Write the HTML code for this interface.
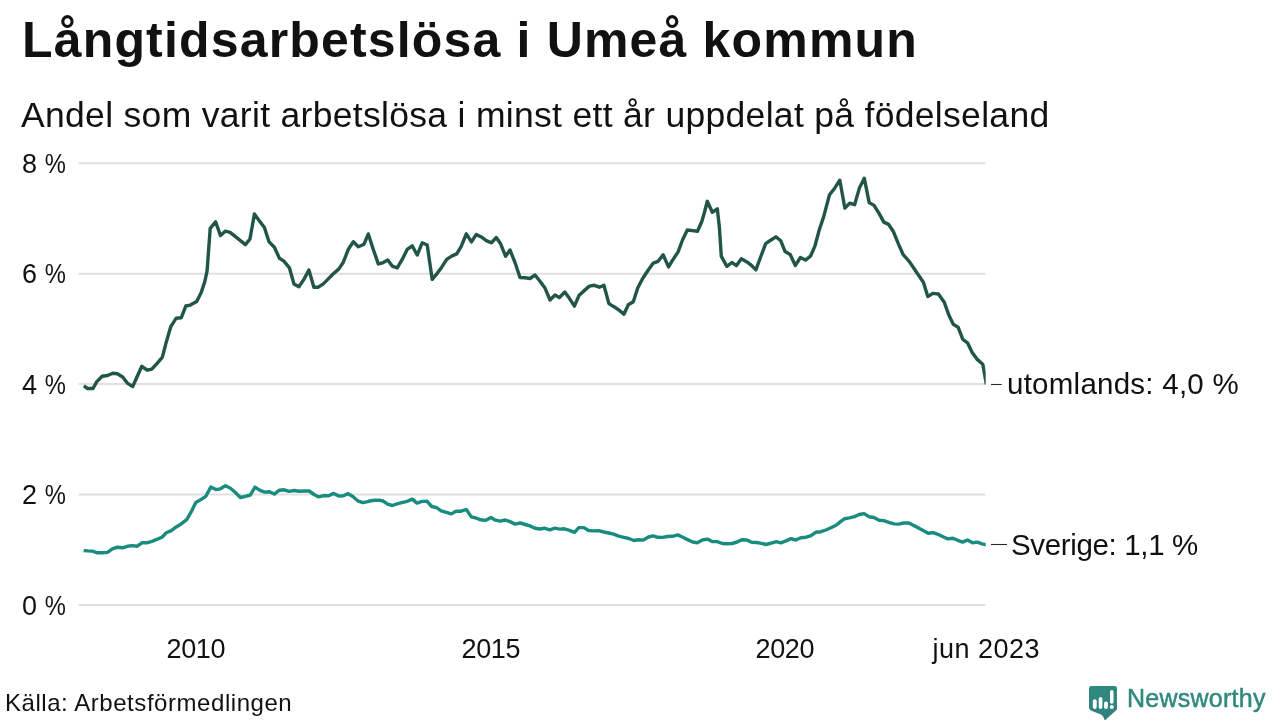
<!DOCTYPE html>
<html><head><meta charset="utf-8"><style>
html,body{margin:0;padding:0;background:#fff;}
body{width:1280px;height:720px;position:relative;overflow:hidden;font-family:"Liberation Sans", sans-serif;color:#111;}
.t{position:absolute;white-space:nowrap;line-height:1;will-change:transform;}
.yl{left:21.6px;font-size:27px;letter-spacing:-1.5px;}
.pc{display:inline-block;transform:scaleX(0.88);transform-origin:100% 50%;}
.xl{top:635.6px;width:200px;text-align:center;font-size:27px;letter-spacing:-0.35px;text-indent:-0.35px;}
</style></head><body>
<div class="t" id="title" style="left:21.6px;top:15.3px;font-size:50px;font-weight:bold;letter-spacing:1.17px;">Långtidsarbetslösa i Umeå kommun</div>
<div class="t" id="sub" style="left:21px;top:97.5px;font-size:35.5px;letter-spacing:0.31px;">Andel som varit arbetslösa i minst ett år uppdelat på födelseland</div>
<svg width="1280" height="720" style="position:absolute;left:0;top:0">
<g stroke="#e0e0e0" stroke-width="2" fill="none">
<line x1="78.5" y1="163.3" x2="985.5" y2="163.3"/>
<line x1="78.5" y1="273.7" x2="985.5" y2="273.7"/>
<line x1="78.5" y1="384.1" x2="985.5" y2="384.1"/>
<line x1="78.5" y1="494.5" x2="985.5" y2="494.5"/>
<line x1="78.5" y1="604.9" x2="985.5" y2="604.9"/>
</g>
<defs><clipPath id="plotclip"><rect x="70" y="140" width="915.7" height="480"/></clipPath></defs>
<g clip-path="url(#plotclip)">
<polyline points="83.6,550.6 88.0,550.9 92.4,551.1 97.4,552.8 102.4,552.8 107.4,552.4 112.4,548.9 117.4,547.2 122.4,547.8 127.4,546.3 132.4,545.6 136.9,546.3 141.9,542.8 146.9,542.8 151.9,541.3 156.9,539.4 161.9,537.2 166.3,532.8 171.3,530.6 175.8,527.2 180.8,524.2 186.7,519.6 191.3,511.7 195.8,502.5 200.8,499.6 205.8,496.3 210.8,487.1 215.8,489.6 220.4,488.8 225.4,485.8 230.4,488.3 235.4,492.5 240.4,497.5 245.4,496.3 250.4,495.0 255.0,487.1 260.0,490.4 264.6,492.1 269.6,491.7 274.3,494.1 279.4,490.2 284.1,489.8 289.1,491.4 294.2,490.5 299.3,491.3 304.4,491.0 309.1,491.0 314.1,494.5 318.8,496.9 323.9,495.7 328.6,495.7 333.7,493.4 338.8,496.1 343.4,495.7 348.1,493.6 352.8,496.5 358.3,501.2 363.0,502.7 367.7,501.6 369.7,501.0 374.4,500.2 379.1,500.2 383.0,501.0 387.7,504.1 392.3,505.5 397.0,503.8 401.7,502.6 407.2,501.3 412.3,499.1 417.0,503.1 422.0,501.4 427.1,501.3 431.8,506.5 436.5,507.7 441.2,510.8 446.3,512.3 451.3,513.9 456.0,511.2 461.1,511.2 466.3,509.5 471.3,516.9 476.0,518.0 480.7,519.8 485.4,520.4 490.9,517.5 495.5,520.2 500.2,521.2 505.3,520.0 510.0,521.6 515.1,524.1 520.2,523.0 525.2,524.5 529.9,525.9 535.0,528.2 539.7,529.0 544.4,528.2 549.8,529.8 554.9,528.2 559.7,529.1 564.4,528.8 569.5,530.3 574.5,532.3 578.8,527.6 583.9,527.6 588.6,530.5 593.7,530.9 598.8,530.7 603.8,532.0 608.9,533.0 613.6,534.2 618.7,536.2 623.8,537.3 628.8,538.5 633.9,540.5 638.6,539.7 643.3,540.1 648.4,537.0 653.1,535.9 657.8,537.3 662.5,537.4 667.6,536.5 672.7,536.3 677.7,534.9 682.8,537.3 687.5,539.6 692.6,542.0 697.3,542.7 702.3,540.0 707.4,539.1 712.1,541.6 717.2,541.6 722.3,543.5 727.3,543.8 732.0,543.5 737.1,542.0 741.8,539.8 746.9,540.0 751.6,542.3 756.7,542.5 761.4,543.4 766.1,544.5 771.2,543.1 776.3,541.6 780.9,542.9 786.0,540.9 791.1,538.6 795.8,540.0 800.9,537.8 805.9,537.2 810.6,535.9 815.7,532.3 820.8,531.7 825.9,530.0 830.9,527.7 835.6,525.5 840.3,521.8 844.7,518.7 849.4,517.9 854.5,516.6 859.1,514.5 864.2,513.6 868.9,516.7 874.0,517.5 879.1,520.2 883.8,520.6 888.8,522.3 893.9,523.9 899.0,524.1 903.7,523.0 908.8,523.0 913.8,525.5 918.5,528.0 923.6,530.8 928.2,533.3 933.1,532.6 938.0,534.3 942.9,536.8 947.9,538.9 952.8,538.2 957.7,540.3 962.6,542.1 967.5,540.0 972.5,542.8 977.4,542.1 982.0,543.8 986.6,544.8" fill="none" stroke="#198c80" stroke-width="3.4" stroke-linejoin="round"/>
<polyline points="83.8,385.9 87.6,388.5 93.0,388.5 96.8,381.6 102.1,376.3 107.5,375.5 112.8,373.2 117.4,373.7 122.7,377.0 127.3,383.1 132.7,386.5 137.3,376.3 141.8,366.3 147.2,370.2 151.8,369.1 157.1,363.3 162.4,357.2 166.3,341.9 170.8,326.6 176.2,318.2 181.3,317.7 185.8,306.0 190.3,305.1 196.7,301.5 201.2,292.5 204.8,281.6 207.1,270.8 210.2,228.4 215.6,221.7 220.5,235.6 225.5,231.1 230.1,232.4 236.4,237.4 245.4,244.6 249.9,239.2 254.4,214.0 258.9,220.3 264.4,227.5 268.9,241.6 274.4,247.2 279.4,258.3 283.9,261.1 289.4,267.8 293.9,283.9 298.9,286.7 303.9,279.4 308.9,270.0 313.9,287.2 318.3,287.2 323.3,283.9 328.3,278.9 332.8,274.2 338.9,268.9 343.3,262.2 348.3,249.4 353.3,241.7 358.3,246.7 363.9,244.4 368.3,233.9 373.3,249.4 378.3,263.9 382.8,262.8 387.8,260.0 392.2,266.1 397.2,267.8 402.2,259.4 407.2,249.4 412.2,245.8 417.2,255.0 422.2,242.8 427.2,245.0 432.2,279.4 437.2,273.3 441.7,267.2 446.7,259.4 451.7,256.1 456.7,253.9 461.1,246.7 466.3,233.8 471.5,241.9 476.3,234.4 481.3,236.9 486.3,240.6 491.3,242.8 496.3,237.5 500.6,243.8 505.6,256.3 510.0,250.0 515.0,262.5 520.0,277.5 525.0,277.8 530.0,278.5 535.0,275.0 540.0,281.3 545.0,288.1 550.0,300.0 555.0,295.0 559.4,297.6 564.8,292.0 569.4,298.3 574.4,306.1 578.9,295.6 583.9,290.9 589.4,286.1 594.4,285.3 599.4,287.2 603.9,285.3 608.9,303.6 613.9,306.7 618.9,310.0 623.9,314.2 628.3,304.7 633.3,301.7 637.8,287.8 642.8,278.3 648.3,270.0 653.3,263.1 658.1,261.3 663.1,254.8 668.5,266.9 673.1,259.4 678.1,251.9 682.5,240.0 687.3,230.0 692.5,230.6 697.5,231.3 701.9,221.3 704.4,212.5 707.3,201.3 712.3,212.3 717.3,208.8 719.4,227.5 721.3,256.3 726.9,266.3 731.9,262.5 736.5,265.6 741.3,258.8 746.9,261.9 750.8,264.8 755.9,269.9 761.0,256.0 765.7,243.6 771.0,240.0 775.9,236.8 780.7,240.7 785.1,251.6 790.2,254.5 795.3,265.5 800.4,257.5 805.5,260.1 810.6,256.0 815.0,245.8 819.3,229.8 823.7,216.6 829.5,194.8 834.7,188.2 839.8,180.2 844.9,208.2 849.7,203.1 854.6,204.7 859.4,188.1 864.3,178.3 869.2,202.6 874.0,205.4 878.9,213.1 883.8,222.1 888.6,224.4 893.5,231.8 898.3,243.6 903.2,254.7 909.4,261.6 915.0,270.0 923.4,282.2 927.8,296.6 932.8,293.4 938.4,294.0 944.1,301.9 948.8,315.0 953.4,324.4 958.1,327.2 962.8,339.4 967.5,342.8 972.2,352.5 976.9,359.1 982.8,364.2 986.4,384.4" fill="none" stroke="#215548" stroke-width="3.4" stroke-linejoin="round"/>
</g>
<line x1="991" y1="384.5" x2="1001.7" y2="384.5" stroke="#2a2a2a" stroke-width="1.1"/>
<line x1="991" y1="544.5" x2="1007" y2="544.5" stroke="#2a2a2a" stroke-width="1.1"/>
<g transform="translate(1089,686)">
<defs><linearGradient id="lg" x1="0" y1="0" x2="0" y2="1"><stop offset="0" stop-color="#2f8a7e"/><stop offset="1" stop-color="#2e7f80"/></linearGradient></defs>
<path d="M2.3,0 H25.7 Q28,0 28,2.3 V23.4 L15.8,34.5 Q14.5,30.5 12.5,28.8 L3,25 Q0,23.8 0,21 V2.3 Q0,0 2.3,0 Z" fill="url(#lg)"/>
<rect x="3.8" y="13.3" width="3.9" height="9.6" rx="1.9" fill="#fff"/>
<rect x="9.7" y="11" width="3.7" height="11.9" rx="1.85" fill="#fff"/>
<rect x="15" y="15.6" width="3.9" height="7.3" rx="1.9" fill="#fff"/>
<rect x="21" y="4" width="3.5" height="13.7" rx="1.75" fill="#fff"/>
<circle cx="22.8" cy="21" r="1.95" fill="#fff"/>
</g>
</svg>
<div class="t yl" style="top:151.0px;">8 <span class="pc">%</span></div>
<div class="t yl" style="top:261.4px;">6 <span class="pc">%</span></div>
<div class="t yl" style="top:371.8px;">4 <span class="pc">%</span></div>
<div class="t yl" style="top:482.2px;">2 <span class="pc">%</span></div>
<div class="t yl" style="top:592.6px;">0 <span class="pc">%</span></div>
<div class="t xl" style="left:95.6px;">2010</div>
<div class="t xl" style="left:390.7px;">2015</div>
<div class="t xl" style="left:685.4px;">2020</div>
<div class="t xl" style="left:886.3px;letter-spacing:0.5px;text-indent:0.5px;">jun 2023</div>
<div class="t" style="left:1006.5px;top:369.3px;font-size:29.5px;letter-spacing:0.25px;">utomlands: 4,0 %</div>
<div class="t" style="left:1010.6px;top:530.1px;font-size:29.5px;letter-spacing:-0.35px;">Sverige: 1,1 %</div>
<div class="t" style="left:5px;top:690.7px;font-size:24px;letter-spacing:0.55px;">Källa: Arbetsförmedlingen</div>
<div class="t" style="left:1127px;top:685.7px;font-size:25px;letter-spacing:0.25px;color:#31897e;-webkit-text-stroke:0.5px #31897e;">Newsworthy</div>
</body></html>
